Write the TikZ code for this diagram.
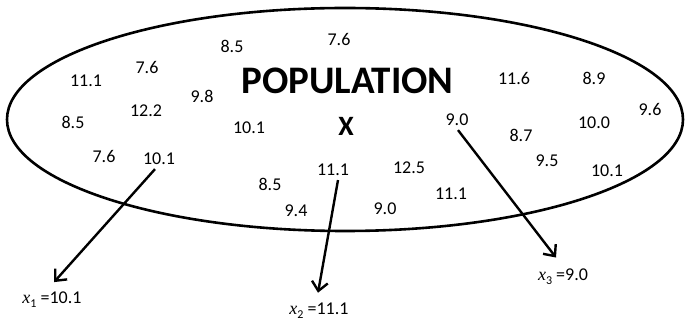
\documentclass[tikz,border=0pt]{standalone}
\usepackage{fontspec}
\setmainfont{Carlito}
\newfontfamily\varfont{Liberation Serif}
\usetikzlibrary{arrows.meta}
\newcommand{\xsub}[1]{{\varfont\itshape x}\raisebox{-4pt}{\fontsize{12}{12}\selectfont #1}}
\tikzset{
  num/.style={inner sep=0pt, font=\fontsize{18}{20}\selectfont},
  lbl/.style={inner sep=0pt, anchor=base, font=\fontsize{18}{20}\selectfont},
  arr/.style={line width=2.4pt, -{Straight Barb[length=9pt,width=16pt,line width=2.4pt]}},
  pop/.style={line width=2.6pt}
}
\begin{document}
\begin{tikzpicture}[x=1pt,y=-1pt]
\useasboundingbox (0,0) rectangle (685,320);
\draw[pop] (345,119.5) ellipse [x radius=338, y radius=111.5];
\node[inner sep=0pt, font=\fontsize{39}{40}\selectfont\bfseries] (title) at (347.5,80.5) {POPULATION};
\node[inner sep=0pt, font=\fontsize{28}{30}\selectfont\bfseries] (X) at (346,126.5) {X};
\node[num] (n1) at (232,46.5) {8.5};
\node[num] (n2) at (339,39) {7.6};
\node[num] (n3) at (147,67) {7.6};
\node[num] (n4) at (86,80.5) {11.1};
\node[num] (n5) at (202,96) {9.8};
\node[num] (n6) at (146,110.5) {12.2};
\node[num] (n7) at (73,122) {8.5};
\node[num] (n8) at (249,128) {10.1};
\node[num] (n9) at (104,156) {7.6};
\node[num] (a1) at (159,159) {10.1};
\node[num] (n11) at (270,184) {8.5};
\node[num] (a2) at (333,170) {11.1};
\node[num] (n13) at (296,211) {9.4};
\node[num] (n14) at (385,209) {9.0};
\node[num] (n15) at (409,168) {12.5};
\node[num] (n16) at (451,194) {11.1};
\node[num] (a3) at (457,120) {9.0};
\node[num] (n18) at (514,78) {11.6};
\node[num] (n19) at (594,78) {8.9};
\node[num] (n20) at (650,109) {9.6};
\node[num] (n21) at (594,123) {10.0};
\node[num] (n22) at (521,135) {8.7};
\node[num] (n23) at (547,161) {9.5};
\node[num] (n24) at (607,171) {10.1};
\node[lbl] (x1) at (52,303) {\xsub{1} =10.1};
\node[lbl] (x2) at (319,314) {\xsub{2} =11.1};
\node[lbl] (x3) at (563,280) {\xsub{3} =9.0};
\draw[arr] ([shift={(-4,4)}]a1.south) -- ([shift={(2,-9)}]x1.north);
\draw[arr] ([shift={(5,4)}]a2.south) -- ([shift={(-1,-9.5)}]x2.north);
\draw[arr] ([shift={(1,4)}]a3.south) -- ([shift={(-7,-10.6)}]x3.north);
\end{tikzpicture}
\end{document}
